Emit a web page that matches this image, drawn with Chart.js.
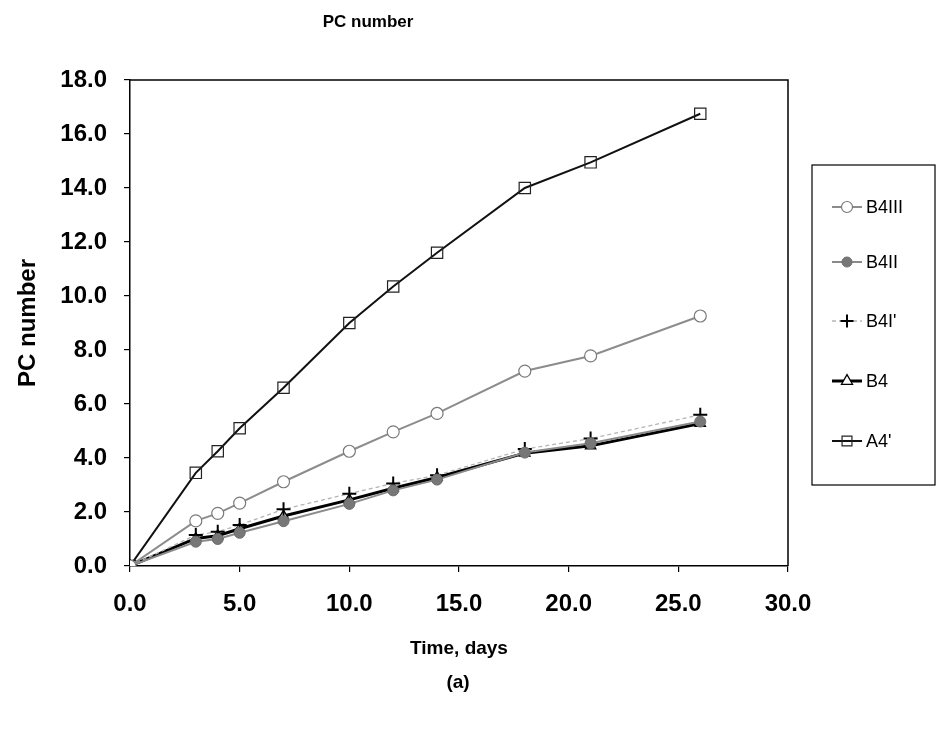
<!DOCTYPE html>
<html lang="en">
<head>
    <meta charset="UTF-8">
    <title>PC number</title>
    <style>
        body {
            margin: 0;
            background: #fff;
        }
        canvas {
            display: block;
        }
    </style>
</head>
<body>
    <canvas id="pcChart" width="939" height="734"></canvas>
    <script src="https://cdn.jsdelivr.net/npm/chart.js"></script>
    <script>
        // Sampling days and PC number per series
        const days = [0, 3, 4, 5, 7, 10, 12, 14, 18, 21, 26];
        const b4iii = [0, 1.67, 1.95, 2.33, 3.12, 4.25, 4.97, 5.65, 7.22, 7.78, 9.26];
        const b4ii = [0, 0.90, 1.00, 1.23, 1.66, 2.30, 2.80, 3.20, 4.20, 4.55, 5.35];
        const b4iPrime = [0, 1.15, 1.27, 1.52, 2.10, 2.68, 3.06, 3.36, 4.33, 4.72, 5.60];
        const b4 = [0, 1.02, 1.12, 1.38, 1.85, 2.45, 2.88, 3.28, 4.18, 4.45, 5.28];
        const a4Prime = [0, 3.45, 4.25, 5.10, 6.60, 9.00, 10.35, 11.60, 14.00, 14.95, 16.75];

        const seriesNames = ["B4III", "B4II", "B4I'", "B4", "A4'"];
        const seriesValues = [b4iii, b4ii, b4iPrime, b4, a4Prime];

        const FONT = "'Liberation Sans', Arial, sans-serif";

        // line / marker look for each series
        const styles = [
            { line: "#8c8c8c", width: 2, dash: [], point: "circle", radius: 6, stroke: "#7a7a7a", fill: "#ffffff", pw: 1.2 },
            { line: "#8a8a8a", width: 2, dash: [], point: "circle", radius: 5.5, stroke: "#6e6e6e", fill: "#777777", pw: 1 },
            { line: "#b5b5b5", width: 1.3, dash: [4, 3], point: "cross", radius: 7, stroke: "#000000", fill: "#000000", pw: 2 },
            { line: "#000000", width: 3, dash: [], point: "triangle", radius: 6, stroke: "#000000", fill: "#ffffff", pw: 1.3 },
            { line: "#111111", width: 2, dash: [], point: "rect", radius: 8, stroke: "#222222", fill: "rgba(255,255,255,0)", pw: 1.2 }
        ];

        const datasets = seriesNames.map((name, i) => ({
            label: name,
            data: days.map((d, j) => ({ x: d, y: seriesValues[i][j] })),
            borderColor: styles[i].line,
            borderWidth: styles[i].width,
            borderDash: styles[i].dash,
            pointStyle: styles[i].point,
            pointRadius: styles[i].radius,
            pointBorderColor: styles[i].stroke,
            pointBackgroundColor: styles[i].fill,
            pointBorderWidth: styles[i].pw,
            tension: 0,
            fill: false
        }));

        function drawMarker(ctx, style, x, y) {
            const r = style.radius;
            ctx.save();
            ctx.setLineDash([]);
            ctx.lineWidth = style.pw;
            ctx.strokeStyle = style.stroke;
            ctx.fillStyle = style.fill;
            ctx.beginPath();
            if (style.point === "circle") {
                ctx.arc(x, y, r, 0, Math.PI * 2);
                ctx.fill();
                ctx.stroke();
            } else if (style.point === "cross") {
                ctx.moveTo(x - r, y); ctx.lineTo(x + r, y);
                ctx.moveTo(x, y - r); ctx.lineTo(x, y + r);
                ctx.stroke();
            } else if (style.point === "triangle") {
                ctx.moveTo(x, y - r * 1.15);
                ctx.lineTo(x + r, y + r * 0.6);
                ctx.lineTo(x - r, y + r * 0.6);
                ctx.closePath();
                ctx.fill();
                ctx.stroke();
            } else {
                const h = r * Math.SQRT1_2;
                ctx.rect(x - h, y - h, h * 2, h * 2);
                ctx.stroke();
            }
            ctx.restore();
        }

        // frame around plot, heading, caption and the boxed legend
        const decorations = {
            id: "decorations",
            beforeDatasetsDraw(chart) {
                const { ctx, chartArea: a } = chart;
                ctx.save();
                ctx.strokeStyle = "#000";
                ctx.lineWidth = 1.5;
                ctx.beginPath();
                ctx.moveTo(a.left, a.top);
                ctx.lineTo(a.right, a.top);
                ctx.lineTo(a.right, a.bottom);
                ctx.stroke();
                ctx.restore();
            },
            afterDraw(chart) {
                const { ctx } = chart;
                ctx.save();
                ctx.fillStyle = "#000";
                ctx.textAlign = "center";
                ctx.textBaseline = "middle";
                ctx.font = "bold 17px " + FONT;
                ctx.fillText("PC number", 368, 22);
                ctx.font = "bold 19px " + FONT;
                ctx.fillText("(a)", 458, 683);

                // legend
                const box = { x: 812, y: 165, w: 123, h: 320 };
                ctx.strokeStyle = "#000";
                ctx.lineWidth = 1.2;
                ctx.strokeRect(box.x, box.y, box.w, box.h);
                const rowY = [207, 262, 321, 381, 441];
                ctx.textAlign = "left";
                ctx.font = "18px " + FONT;
                seriesNames.forEach((name, i) => {
                    const s = styles[i];
                    const y = rowY[i];
                    ctx.save();
                    ctx.strokeStyle = s.line;
                    ctx.lineWidth = s.width;
                    ctx.setLineDash(s.dash);
                    ctx.beginPath();
                    ctx.moveTo(832, y);
                    ctx.lineTo(862, y);
                    ctx.stroke();
                    ctx.restore();
                    drawMarker(ctx, Object.assign({}, s, { radius: s.point === "rect" ? 7 : s.radius - 0.5 }), 847, y);
                    ctx.fillStyle = "#000";
                    ctx.fillText(name, 866, y + 1);
                });
                ctx.restore();
            }
        };

        const tickFont = { family: FONT, size: 24, weight: "bold" };

        new Chart(document.getElementById("pcChart"), {
            type: "line",
            data: { datasets: datasets },
            plugins: [decorations],
            options: {
                responsive: false,
                animation: false,
                layout: { padding: { top: 80, right: 151, bottom: 74, left: 0 } },
                plugins: {
                    legend: { display: false },
                    tooltip: { enabled: false },
                    title: { display: false }
                },
                scales: {
                    x: {
                        type: "linear",
                        min: 0,
                        max: 30,
                        ticks: { stepSize: 5, padding: 18, color: "#000", font: tickFont, maxRotation: 0, callback: v => v.toFixed(1) },
                        grid: { drawOnChartArea: false, color: "#000", tickLength: 6, lineWidth: 1.2 },
                        border: { color: "#000", width: 1.5 },
                        title: { display: true, text: "Time, days", color: "#000", font: { family: FONT, size: 19, weight: "bold" }, padding: { top: 4, bottom: 0 } },
                        afterFit(scale) { scale.height = 94; }
                    },
                    y: {
                        min: 0,
                        max: 18,
                        ticks: { stepSize: 2, padding: 17, color: "#000", font: tickFont, callback: v => v.toFixed(1) },
                        grid: { drawOnChartArea: false, color: "#000", tickLength: 6, lineWidth: 1.2 },
                        border: { color: "#000", width: 1.5 },
                        title: { display: true, text: "PC number", color: "#000", font: { family: FONT, size: 24, weight: "bold" }, padding: { top: 14, bottom: 0 } },
                        afterFit(scale) { scale.width = 130; }
                    }
                }
            }
        });
    </script>
</body>
</html>
